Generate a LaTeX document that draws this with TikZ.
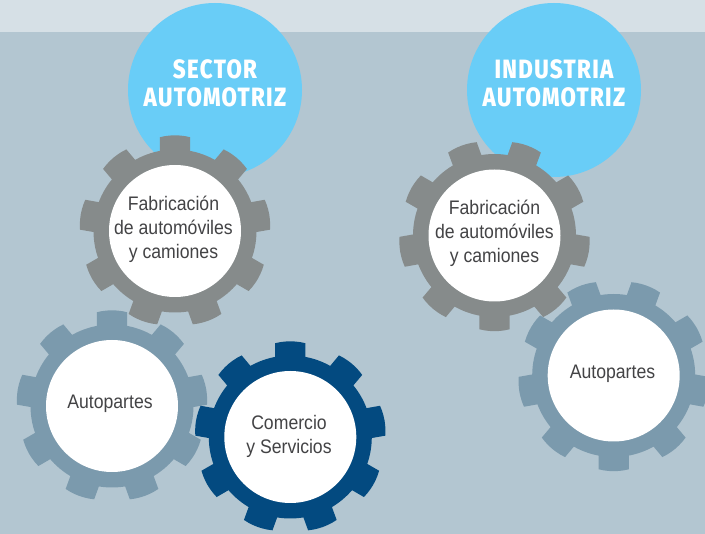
\documentclass[tikz,border=0pt]{standalone}
\usepackage{fontspec}
\setmainfont[FakeStretch=0.9]{Liberation Sans}
\newfontfamily\headfont[FakeStretch=0.84,LetterSpace=5]{Fira Sans ExtraBold}
\definecolor{bandc}{HTML}{D6E0E6}
\definecolor{bgc}{HTML}{B3C6D1}
\definecolor{skyc}{HTML}{69CDF7}
\definecolor{grayc}{HTML}{868B8B}
\definecolor{steelc}{HTML}{7B9AAD}
\definecolor{navyc}{HTML}{034A80}
\definecolor{txtc}{HTML}{434345}
\tikzset{
  headcircle/.style={circle,fill=skyc,minimum size=174pt,inner sep=0pt},
  headlabel/.style={align=center,text=white,font=\headfont\fontsize{26.5}{27.7}\selectfont},
  gearhole/.style={circle,fill=white,minimum size=132pt,inner sep=0pt},
  gearlabel/.style={align=center,text=txtc,font=\fontsize{19.6}{24}\selectfont},
}
\newcommand{\gearbody}[4]{% x, y, colour, phase (deg)
  \fill[#3] (#1,#2) circle[radius=81.5];
  \foreach \a in {0,40,...,320}{
    \pgfmathsetmacro{\t}{90+#4+\a}
    \fill[#3,shift={(#1,#2)}]
      (\t-11.5:76) -- (\t-9.2:95) -- (\t-6:95.4) -- (\t-3:95.6) -- (\t:95.7)
      -- (\t+3:95.6) -- (\t+6:95.4) -- (\t+9.2:95) -- (\t+11.5:76) -- cycle;
  }
}
\begin{document}
\begin{tikzpicture}[x=1pt,y=-1pt]
\useasboundingbox (0,0) rectangle (705,534);
\fill[bgc] (0,0) rectangle (705,534);
\fill[bandc] (0,0) rectangle (705,32);
\node[headcircle] (c1) at (215,90) {};
\node[headcircle] (c2) at (554,90) {};
\node[headlabel] (t1) at (215,83.5) {SECTOR\\AUTOMOTRIZ};
\node[headlabel] (t2) at (554,83.5) {INDUSTRIA\\AUTOMOTRIZ};
\gearbody{175}{231}{grayc}{180}
\node[gearhole] (g1) at (175,231) {};
\node[gearlabel] (l1) at (173.5,229) {Fabricación\\de automóviles\\y camiones};
\gearbody{112}{406}{steelc}{180}
\node[gearhole] (g2) at (112,406) {};
\node[gearlabel] (l2) at (110,404) {Autopartes};
\gearbody{290.3}{437}{navyc}{180}
\node[gearhole] (g3) at (290.3,437) {};
\node[gearlabel] (l3) at (289,436) {Comercio\\y Servicios};
\gearbody{494.5}{235.5}{grayc}{0}
\node[gearhole] (g4) at (494.5,235.5) {};
\node[gearlabel] (l4) at (494.5,233.5) {Fabricación\\de automóviles\\y camiones};
\gearbody{613.7}{375.5}{steelc}{0}
\node[gearhole] (g5) at (613.7,375.5) {};
\node[gearlabel] (l5) at (612.5,374) {Autopartes};
\end{tikzpicture}
\end{document}
